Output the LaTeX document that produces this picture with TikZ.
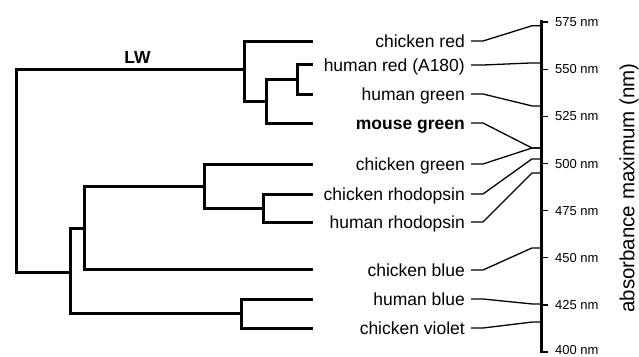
\documentclass[tikz,border=0pt]{standalone}
\usepackage{fontspec}
\setmainfont{Liberation Sans}
\begin{document}
\begin{tikzpicture}[x=1pt,y=-1pt,
  branch/.style={line width=3pt, line join=miter},
  leaf/.style={anchor=east, inner sep=0pt, text height=12.8pt, text depth=0pt,
    font=\fontsize{17.5}{20}\selectfont},
  link/.style={line width=1.3pt, line join=round},
  axisline/.style={line width=3pt},
  tickmark/.style={line width=1.3pt},
  ticklabel/.style={anchor=west, inner sep=0pt, text height=9.3pt, text depth=0pt,
    font=\fontsize{13}{15}\selectfont},
  axistitle/.style={rotate=90, inner sep=0pt, font=\fontsize{20.5}{24}\selectfont}]
\useasboundingbox (0,0) rectangle (639,356);

% ---- leaf tips of the tree
\coordinate (L1) at (313,41);
\coordinate (L2) at (313,64);
\coordinate (L3) at (313,94);
\coordinate (L4) at (313,123);
\coordinate (L5) at (313,164);
\coordinate (L6) at (313,194);
\coordinate (L7) at (313,222);
\coordinate (L8) at (313,269);
\coordinate (L9) at (313,299);
\coordinate (L10) at (313,328);

% ---- internal nodes (x of the vertical bar, y of the stem)
\coordinate (n23) at (297,79);
\coordinate (n234) at (266,101);
\coordinate (lw) at (244,69);
\coordinate (n67) at (263,208);
\coordinate (n567) at (204,186);
\coordinate (n5678) at (84,228);
\coordinate (n910) at (241,313);
\coordinate (n510) at (70,272);
\coordinate (root) at (16,170);

% ---- branches
\draw[branch] (L2) -| (n23) |- (L3);
\draw[branch] (n23) -| (n234) |- (L4);
\draw[branch] (L1) -| (lw) |- (n234);
\draw[branch] (L6) -| (n67) |- (L7);
\draw[branch] (L5) -| (n567) |- (n67);
\draw[branch] (n567) -| (n5678) |- (L8);
\draw[branch] (L9) -| (n910) |- (L10);
\draw[branch] (n5678) -| (n510) |- (n910);
\draw[branch] (lw) -| (root) |- (n510);

\node[inner sep=0pt, font=\fontsize{17.5}{20}\selectfont\bfseries] (lwlabel) at (137.5,57) {LW};

% ---- pigment names
\node[leaf] (t1) at (465,41) {chicken red};
\node[leaf] (t2) at (465,65) {human red (A180)};
\node[leaf] (t3) at (465,94) {human green};
\node[leaf] (t4) at (465,123) {\bfseries mouse green};
\node[leaf] (t5) at (465,164) {chicken green};
\node[leaf] (t6) at (465,194) {chicken rhodopsin};
\node[leaf] (t7) at (465,222) {human rhodopsin};
\node[leaf] (t8) at (465,270) {chicken blue};
\node[leaf] (t9) at (465,299) {human blue};
\node[leaf] (t10) at (465,328) {chicken violet};

% ---- wavelength axis
\coordinate (axtop) at (541,20);
\coordinate (axbot) at (541,353);
\draw[axisline] (axtop) -- (axbot);
\foreach \n [evaluate=\n as \yy using {22+(575-\n)*1.886}] in {575,550,...,400} {
  \coordinate (tk\n) at (541,\yy);
  \draw[tickmark] (tk\n) -- ([xshift=7pt]tk\n);
}
\foreach \n in {575,550,...,425}
  \node[ticklabel] (lab\n) at ([xshift=14pt]tk\n) {\n\ nm};
% the lowest label sits a little higher so it stays inside the frame
\node[ticklabel] (lab400) at ([xshift=14pt,yshift=2pt]tk400) {400 nm};
\node[axistitle] (title) at (629,188) {absorbance maximum (nm)};

% ---- absorbance maxima on the axis
\coordinate (w1) at (541,{22+(575-573)*1.886});
\coordinate (w2) at (541,{22+(575-553.3)*1.886});
\coordinate (w3) at (541,{22+(575-530.5)*1.886});
\coordinate (w4) at (541,{22+(575-508.2)*1.886});
\coordinate (w6) at (541,{22+(575-502.4)*1.886});
\coordinate (w7) at (541,{22+(575-494.9)*1.886});
\coordinate (w8) at (541,{22+(575-455.2)*1.886});
\coordinate (w9) at (541,{22+(575-425.5)*1.886});
\coordinate (w10) at (541,{22+(575-415.9)*1.886});

% ---- links from names to maxima
\foreach \t/\w in {t1/w1, t2/w2, t3/w3, t4/w4, t5/w4, t6/w6, t7/w7, t8/w8, t9/w9, t10/w10}
  \draw[link] ([xshift=6pt]\t.east) -- ([xshift=18pt]\t.east) -- ([xshift=-9pt]\w) -- (\w);
\end{tikzpicture}
\end{document}
